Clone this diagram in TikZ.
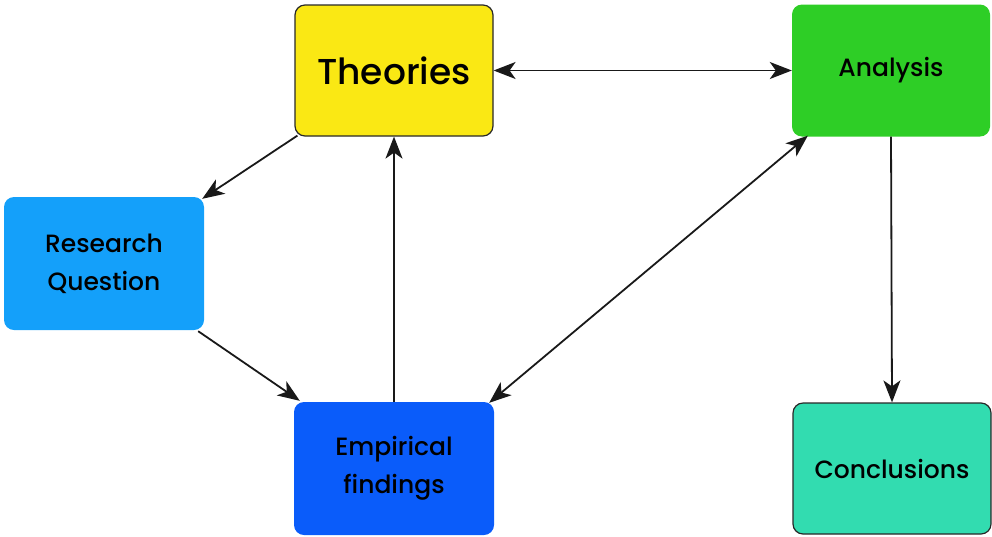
\documentclass[tikz,border=0pt]{standalone}
\usepackage{fontspec}
\setmainfont{Poppins Medium}
\usetikzlibrary{arrows.meta}
\definecolor{cyel}{RGB}{250,232,20}
\definecolor{cgreen}{RGB}{46,206,38}
\definecolor{clblue}{RGB}{20,160,250}
\definecolor{cblue}{RGB}{10,92,250}
\definecolor{cteal}{RGB}{50,220,176}
\definecolor{cborder}{RGB}{40,40,40}
\tikzset{
  box/.style={rounded corners=10pt, minimum width=198pt, minimum height=131pt, inner sep=0pt, align=center, font=\fontsize{25}{38}\selectfont, text=black},
  bordered/.style={draw=cborder, line width=1.2pt},
  tip/.tip={Stealth[length=22pt,width=17pt,inset=6pt]},
  conn/.style={line width=1.8pt, draw=black!90, -tip},
  bconn/.style={line width=1.8pt, draw=black!90, tip-tip}
}
\begin{document}
\begin{tikzpicture}[x=1pt,y=-1pt]
\useasboundingbox (0,0) rectangle (992,536);
\node[box, bordered, fill=cyel, font=\fontsize{36}{40}\selectfont] (th) at (394,70.5) {Theories};
\node[box, fill=cgreen, minimum width=198pt, minimum height=132pt] (an) at (891,70.5) {Analysis};
\node[box, fill=clblue, minimum width=200pt, minimum height=133pt] (rq) at (104,263.5) {Research\\Question};
\node[box, fill=cblue, minimum width=200pt, minimum height=133pt] (ef) at (394,468.5) {Empirical\\findings};
\node[box, bordered, fill=cteal] (co) at (892,468.5) {Conclusions};
\draw[bconn] (th.east) -- (an.west);
\draw[conn] ([shift={(3,-1)}]th.south west) -- ([shift={(-2,2)}]rq.north east);
\draw[conn] ([shift={(-6,1)}]rq.south east) -- ([shift={(6,-1)}]ef.north west);
\draw[conn] (ef.north) -- (th.south);
\draw[bconn] ([shift={(-5,1)}]ef.north east) -- ([shift={(16,-1)}]an.south west);
\draw[conn] (an.south) -- (co.north);
\end{tikzpicture}
\end{document}
